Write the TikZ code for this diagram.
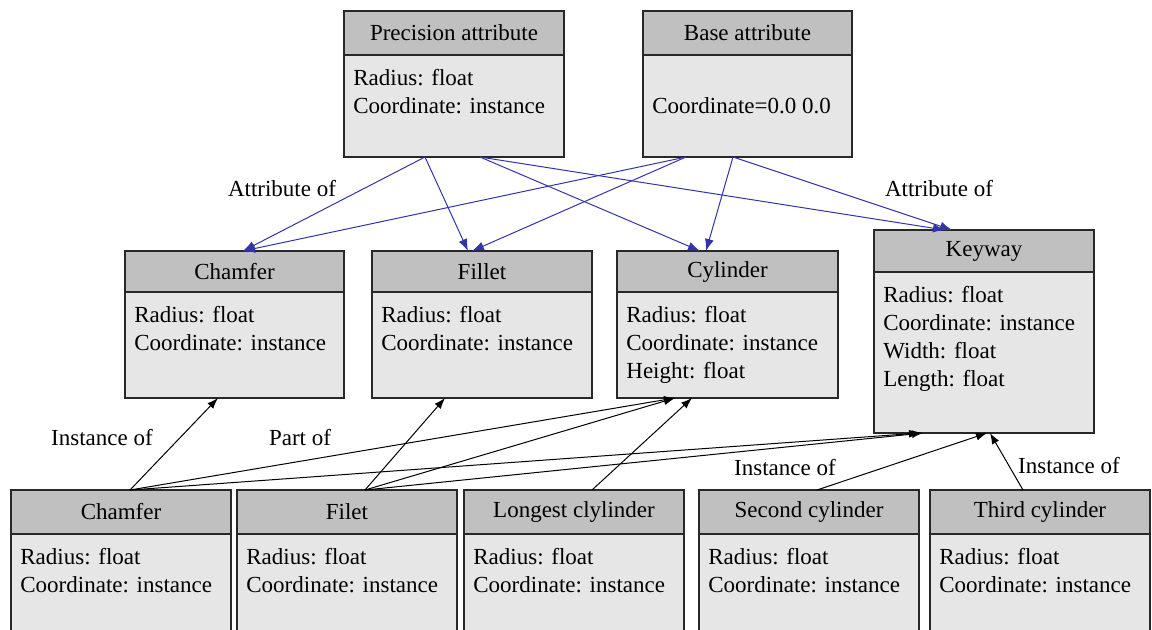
\documentclass[tikz,border=0pt]{standalone}
\usepackage{fontspec}
\setmainfont{Liberation Serif}
\usetikzlibrary{arrows.meta,calc}
\definecolor{headgray}{RGB}{192,192,192}
\definecolor{bodygray}{RGB}{230,230,230}
\definecolor{edgegray}{RGB}{40,40,40}
\definecolor{linkblue}{RGB}{51,51,170}

% class box: name, left, top, width, height, header height, title, attributes
\newcommand\classbox[8]{%
  \node[bodybox, anchor=north west, minimum width={#4*0.5pt}, minimum height={#5*0.5pt}] (#1) at (#2,#3) {};
  \node[headbox, anchor=north west, minimum width={#4*0.5pt}, minimum height={#6*0.5pt}] (#1-h) at (#1.north west) {#7};
  \node[attrs, anchor=north west] (#1-a) at ($(#1-h.south west)+(9,14)$) {#8};
}

\begin{document}
\begin{tikzpicture}[x=0.5pt,y=-0.5pt,
  txt/.style={font=\fontsize{11.5}{14}\selectfont},
  bodybox/.style={rectangle, draw=edgegray, line width=0.6pt, fill=bodygray, inner sep=0pt, outer sep=0pt},
  headbox/.style={rectangle, draw=edgegray, line width=0.6pt, fill=headgray, inner sep=0pt, outer sep=0pt, txt},
  attrs/.style={align=left, inner sep=0pt, txt},
  lbl/.style={inner sep=0pt, txt},
  attrlink/.style={draw=linkblue, line width=0.5pt, -{Latex[length=6pt,width=4.5pt]}},
  instlink/.style={draw=black, line width=0.5pt, -{Latex[length=5.5pt,width=4pt]}},
]
\useasboundingbox (0,0) rectangle (1152,629);
\clip (0,0) rectangle (1152,629);

% attribute classes
\classbox{pa}{344}{11}{220}{146}{44}{Precision attribute}{Radius: float\\Coordinate: instance}
\classbox{ba}{643}{11}{209}{146}{44}{Base attribute}{\vphantom{Radius: float}\\Coordinate=0.0 0.0}

% feature classes
\classbox{ch}{125}{251}{219}{147}{41}{Chamfer}{Radius: float\\Coordinate: instance}
\classbox{fi}{372}{251}{220}{147}{41}{Fillet}{Radius: float\\Coordinate: instance}
\classbox{cy}{617}{251}{221}{147}{41}{Cylinder}{Radius: float\\Coordinate: instance\\Height: float}
\classbox{kw}{874}{230}{220}{203}{42}{Keyway}{Radius: float\\Coordinate: instance\\Width: float\\Length: float}

% instances
\classbox{bc}{11}{490}{220}{200}{44}{Chamfer}{Radius: float\\Coordinate: instance}
\classbox{bf}{237}{490}{220}{200}{44}{Filet}{Radius: float\\Coordinate: instance}
\classbox{bl}{464}{490}{220}{200}{44}{Longest clylinder}{Radius: float\\Coordinate: instance}
\classbox{bs}{699}{490}{220}{200}{44}{Second cylinder}{Radius: float\\Coordinate: instance}
\classbox{bt}{930}{490}{220}{200}{44}{Third cylinder}{Radius: float\\Coordinate: instance}

% attribute links
\draw[attrlink] ($(pa.south west)+(81,0)$) -- ($(ch.north west)+(118,0)$);
\draw[attrlink] ($(pa.south west)+(81,0)$) -- ($(fi.north west)+(96,0)$);
\draw[attrlink] ($(pa.south west)+(136,0)$) -- ($(cy.north west)+(83,0)$);
\draw[attrlink] ($(pa.south west)+(136,0)$) -- ($(kw.north west)+(71,0)$);
\draw[attrlink] ($(ba.south west)+(43,0)$) -- ($(ch.north west)+(118,0)$);
\draw[attrlink] ($(ba.south west)+(43,0)$) -- ($(fi.north west)+(100,0)$);
\draw[attrlink] ($(ba.south west)+(90,0)$) -- ($(cy.north west)+(89,0)$);
\draw[attrlink] ($(ba.south west)+(90,0)$) -- ($(kw.north west)+(78,0)$);

% instance and part links
\draw[instlink] ($(bc.north west)+(119,0)$) -- ($(ch.south west)+(93,0)$);
\draw[instlink] ($(bc.north west)+(119,0)$) -- ($(cy.south west)+(58,0)$);
\draw[instlink] ($(bc.north west)+(119,0)$) -- ($(kw.south west)+(46,0)$);
\draw[instlink] ($(bf.north west)+(128,0)$) -- ($(fi.south west)+(73,0)$);
\draw[instlink] ($(bf.north west)+(128,0)$) -- ($(cy.south west)+(58,0)$);
\draw[instlink] ($(bf.north west)+(128,0)$) -- ($(kw.south west)+(49,0)$);
\draw[instlink] ($(bl.north west)+(128,0)$) -- ($(cy.south west)+(75,0)$);
\draw[instlink] ($(bs.north west)+(118,0)$) -- ($(kw.south west)+(113,0)$);
\draw[instlink] ($(bt.north west)+(93,0)$) -- ($(kw.south west)+(116,0)$);

% link labels
\node[lbl] (l1) at (282,189) {Attribute of};
\node[lbl] (l2) at (939,189) {Attribute of};
\node[lbl] (l3) at (102,438) {Instance of};
\node[lbl] (l4) at (300,438) {Part of};
\node[lbl] (l5) at (785,468) {Instance of};
\node[lbl] (l6) at (1069,466) {Instance of};
\end{tikzpicture}
\end{document}
